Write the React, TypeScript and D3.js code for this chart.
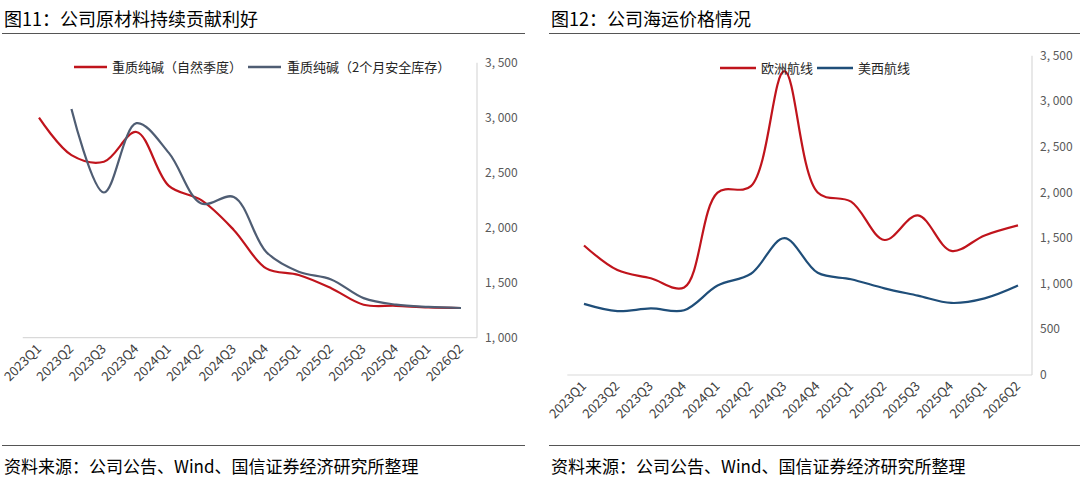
import React from "react";
import * as d3 from "d3";

const quarters = ["2023Q1","2023Q2","2023Q3","2023Q4","2024Q1","2024Q2","2024Q3","2024Q4","2025Q1","2025Q2","2025Q3","2025Q4","2026Q1","2026Q2"];
const sodaNatural = [3000,2660,2600,2870,2380,2250,1980,1630,1570,1450,1300,1290,1275,1270];
const sodaSafety: (number|null)[] = [null,3080,2320,2950,2680,2220,2280,1780,1600,1530,1360,1300,1280,1270];
const europe = [1420,1150,1060,960,2000,2070,3330,2000,1900,1480,1750,1360,1530,1640];
const usWest = [780,700,730,710,980,1110,1500,1120,1050,950,870,790,840,980];
const leftTicks = [1000,1500,2000,2500,3000,3500];
const rightTicks = [0,500,1000,1500,2000,2500,3000,3500];

const FONT = "'Noto Sans CJK SC', 'Noto Sans', sans-serif";
const fmt = (v: number) => (v >= 1000 ? d3.format(",")(v).replace(",", ", ") : String(v));

type Series = { name: string; color: string; values: (number | null)[] };

function Panel(props: {
  x0: number; x1: number; axisX: number; yTop: number; yBot: number; domain: [number, number];
  ticks: number[]; series: Series[]; legend: { y: number; items: { lx: number; tx: number }[]; width: number };
  title: string; lineLeft: number; lineRight: number;
}) {
  const { x0, x1, axisX, yTop, yBot, domain, ticks, series, legend } = props;
  const x = d3.scalePoint<string>().domain(quarters).range([x0, x1]);
  const y = d3.scaleLinear().domain(domain).range([yBot, yTop]);
  const axisLeft = x0 - (x1 - x0) / 26;
  return (
    <g>
      <text x={props.lineLeft + 2} y={26} fontSize={18} fontFamily={FONT} fill="#000">{props.title}</text>
      <line x1={props.lineLeft} x2={props.lineRight} y1={33.5} y2={33.5} stroke="#555" strokeWidth={1.2} />
      <line x1={props.lineLeft} x2={props.lineRight} y1={445.5} y2={445.5} stroke="#555" strokeWidth={1.2} />
      <text x={props.lineLeft + 2} y={473} fontSize={17} fontFamily={FONT} fill="#000">资料来源：公司公告、Wind、国信证券经济研究所整理</text>
      <line x1={axisLeft} x2={axisX} y1={yBot} y2={yBot} stroke="#d9d9d9" strokeWidth={1.2} />
      <line x1={axisX} x2={axisX} y1={yTop} y2={yBot} stroke="#d9d9d9" strokeWidth={1.2} />
      {ticks.map((t) => (
        <text key={t} x={axisX + 8} y={y(t) + 4} fontSize={12} fontFamily={FONT} fill="#595959">{fmt(t)}</text>
      ))}
      {quarters.map((q) => (
        <text key={q} transform={`translate(${x(q)! + 3},${yBot + 12}) rotate(-45)`} textAnchor="end" fontSize={13} fontFamily={FONT} fill="#404040">{q}</text>
      ))}
      {series.map((s) => {
        const line = d3.line<number | null>()
          .defined((d) => d != null)
          .x((_, i) => x(quarters[i])!)
          .y((d) => y(d as number))
          .curve(d3.curveCatmullRom.alpha(0.5));
        return <path key={s.name} d={line(s.values) || ""} fill="none" stroke={s.color} strokeWidth={2.2} />;
      })}
      {series.map((s, i) => (
        <g key={s.name}>
          <line x1={legend.items[i].lx} x2={legend.items[i].lx + legend.width} y1={legend.y} y2={legend.y} stroke={s.color} strokeWidth={2.5} />
          <text x={legend.items[i].tx} y={legend.y + 4.5} fontSize={13} fontFamily={FONT} fill="#262626">{s.name}</text>
        </g>
      ))}
    </g>
  );
}

export default function App() {
  return (
    <svg width={1080} height={490} style={{ position: "absolute", left: 0, top: 0, background: "#fff" }}>
      <rect width={1080} height={490} fill="#fff" />
      <Panel
        title="图11：公司原材料持续贡献利好" lineLeft={2} lineRight={525}
        x0={39} x1={461} axisX={477} yTop={62.7} yBot={337.7} domain={[1000, 3500]} ticks={leftTicks}
        series={[
          { name: "重质纯碱（自然季度）", color: "#C0141C", values: sodaNatural },
          { name: "重质纯碱（2个月安全库存）", color: "#4F5D73", values: sodaSafety },
        ]}
        legend={{ y: 67, width: 33, items: [{ lx: 74, tx: 112 }, { lx: 248, tx: 287 }] }}
      />
      <Panel
        title="图12：公司海运价格情况" lineLeft={549} lineRight={1080}
        x0={584} x1={1018} axisX={1032} yTop={55.7} yBot={375} domain={[0, 3500]} ticks={rightTicks}
        series={[
          { name: "欧洲航线", color: "#C0141C", values: europe },
          { name: "美西航线", color: "#1F4E79", values: usWest },
        ]}
        legend={{ y: 68, width: 36, items: [{ lx: 720, tx: 761 }, { lx: 817, tx: 858 }] }}
      />
    </svg>
  );
}
